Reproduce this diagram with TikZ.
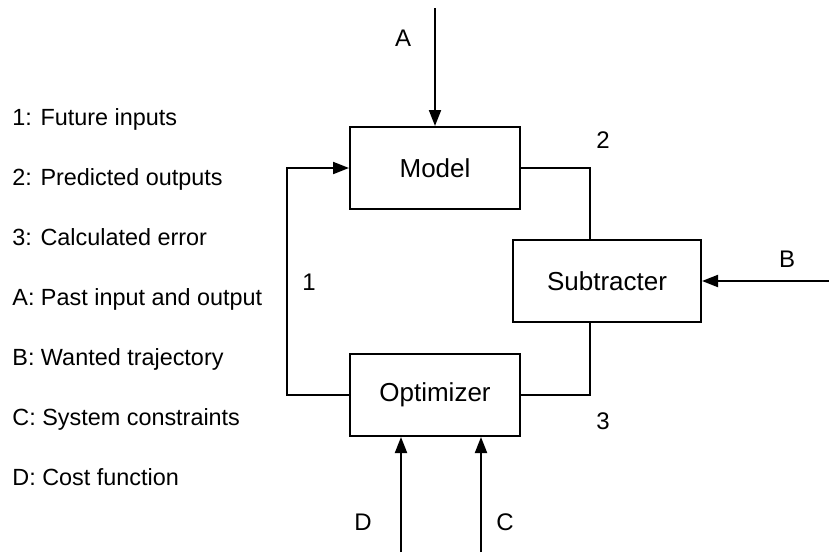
\documentclass[tikz,border=0pt]{standalone}
\usepackage{fontspec}
\setmainfont{Liberation Sans}
\usetikzlibrary{arrows.meta,positioning,calc}

\begin{document}
\begin{tikzpicture}[x=0.5pt, y=-0.5pt,
  block/.style={rectangle, draw, line width=1pt, minimum width=85pt, minimum height=41pt, inner sep=0pt, font=\fontsize{13pt}{15pt}\selectfont},
  lab/.style={inner sep=0pt, font=\fontsize{12pt}{14pt}\selectfont},
  legend/.style={lab, anchor=base west, font=\fontsize{11.7pt}{14pt}\selectfont},
  wire/.style={line width=1pt},
  arr/.style={wire, -{Triangle[length=8pt, width=6pt]}}]
  \useasboundingbox (0,0) rectangle (829,552);
  % legend
  \foreach \i/\t in {1/{1: Future inputs}, 2/{2: Predicted outputs}, 3/{3: Calculated error},
      4/{A: Past input and output}, 5/{B: Wanted trajectory}, 6/{C: System constraints}, 7/{D: Cost function}} {
    \node[legend] (leg\i) at (12,{65+60*\i}) {\t};
  }
  % blocks
  \node[block] (model) at (435,168) {Model};
  \node[block, minimum width=94pt] (sub) at (607,281) {Subtracter};
  \node[block] (opt) at (435,395) {Optimizer};
  % outside inputs
  \coordinate (inA) at (435,8);
  \coordinate (inB) at (829,281);
  \coordinate (inD) at (401,552);
  \coordinate (inC) at (481,552);
  \draw[arr] (inA) -- (model);
  \draw[arr] (inB) -- (sub);
  \draw[arr] (inD) -- (inD |- opt.south);
  \draw[arr] (inC) -- (inC |- opt.south);
  % loop
  \draw[arr] (opt.west) -| (287,393) |- (model.west);
  \draw[wire] (model.east) -| (sub.north -| 590,0);
  \draw[wire] (sub.south -| 590,0) |- (opt.east);
  % labels
  \node[lab] (labA) at (403,38) {A};
  \node[lab] (labB) at (787,259) {B};
  \node[lab] (labC) at (505,522) {C};
  \node[lab] (labD) at (363,522) {D};
  \node[lab] (lab1) at (309,282) {1};
  \node[lab] (lab2) at (603,140) {2};
  \node[lab] (lab3) at (603,421) {3};
\end{tikzpicture}
\end{document}
